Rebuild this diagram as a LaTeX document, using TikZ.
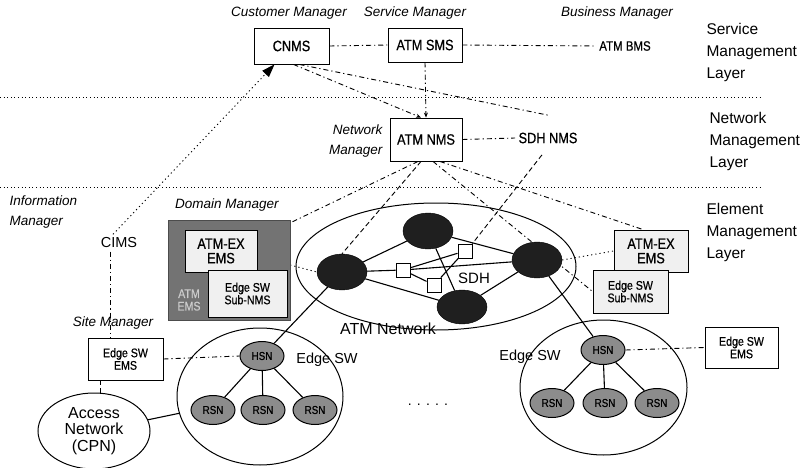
\documentclass[tikz,border=0pt]{standalone}
\usepackage{fontspec}
\setmainfont{Liberation Sans}
\newfontfamily\cond[FakeStretch=0.85,FakeBold=0.6]{Liberation Sans}
\usetikzlibrary{arrows.meta,shapes.geometric,backgrounds}
\begin{document}
\begin{tikzpicture}[x=1pt,y=-1pt,
  box/.style={draw,line width=0.9pt,fill=white,inner sep=0pt,align=center},
  bigtxt/.style={font=\cond\fontsize{15}{15}\selectfont},
  smtxt/.style={font=\cond\fontsize{12.5}{12.5}\selectfont},
  mgr/.style={font=\itshape\fontsize{13.5}{20}\selectfont},
  layer/.style={font=\fontsize{15.5}{22}\selectfont,align=left,anchor=west},
  dd/.style={line width=0.9pt,dash pattern=on 5pt off 3pt on 1.2pt off 3pt},
  dt/.style={line width=0.9pt,dash pattern=on 1.2pt off 3pt},
  ds/.style={line width=0.9pt,dash pattern=on 5pt off 3pt},
  sep/.style={line width=0.8pt,dash pattern=on 1pt off 2.6pt},
  sol/.style={line width=1.1pt},
  blk/.style={ellipse,draw,fill=black!88,minimum width=50,minimum height=36,inner sep=0pt},
  gnode/.style={ellipse,draw,line width=1pt,fill=black!45,minimum width=44,minimum height=29,inner sep=0pt,font=\cond\fontsize{11.5}{11.5}\selectfont},
  sqr/.style={draw,fill=white,line width=0.9pt,minimum size=14,inner sep=0pt},
  ring/.style={ellipse,draw,line width=1pt,inner sep=0pt},
  sarr/.style={-{Stealth[length=5pt,width=4pt]}}
]
\useasboundingbox (0,0) rectangle (800,468);

% layer separators
\coordinate (s1a) at (0,97); \coordinate (s1b) at (763,97);
\coordinate (s2a) at (0,187); \coordinate (s2b) at (763,187);
\draw[sep] (s1a) -- (s1b);
\draw[sep] (s2a) -- (s2b);

% layer labels
\node[layer] (L1) at (703,52) {Service\\Management\\Layer};
\node[layer] (L2) at (706,141) {Network\\Management\\Layer};
\node[layer] (L3) at (703,232) {Element\\Management\\Layer};

% manager labels
\node[mgr] (m1) at (289,13) {Customer Manager};
\node[mgr] (m2) at (415,13) {Service Manager};
\node[mgr] (m3) at (617,13) {Business Manager};
\node[mgr,align=right,anchor=east] (m4) at (386,141) {Network\\Manager};
\node[mgr,align=left,anchor=west] (m5) at (6,212) {Information\\Manager};
\node[mgr] (m6) at (227,205) {Domain Manager};
\node[mgr] (m7) at (113,323) {Site Manager};

% top boxes
\node[box,bigtxt,minimum width=75,minimum height=36] (cnms) at (291.5,46) {CNMS};
\node[box,bigtxt,minimum width=74,minimum height=34] (sms) at (425,45) {ATM SMS};
\node[font=\cond\fontsize{13.5}{13.5}\selectfont] (bms) at (625,46) {ATM BMS};
\node[box,bigtxt,minimum width=72,minimum height=43] (nms) at (426,139.5) {ATM NMS};
\node[bigtxt] (sdhnms) at (548,138) {SDH NMS};
\node[font=\fontsize{14.5}{14.5}\selectfont] (cims) at (119,243) {CIMS};

% domain manager
\node[draw=black!70,fill=black!55,minimum width=122,minimum height=100,inner sep=0pt] (dm) at (229,270) {};
\node[smtxt,text=black!20,align=center] (atmems) at (189,300) {ATM\\EMS};
\node[box,fill=black!6,font=\cond\fontsize{15}{14.5}\selectfont,minimum width=72,minimum height=42] (emsL) at (221,251) {ATM-EX\\EMS};
\node[box,fill=black!6,smtxt,minimum width=79,minimum height=47] (subL) at (247.5,293.5) {Edge SW\\Sub-NMS};

% right element managers
\node[box,fill=black!6,font=\cond\fontsize{15}{14.5}\selectfont,minimum width=74,minimum height=42] (emsR) at (651,251) {ATM-EX\\EMS};
\node[box,fill=black!6,smtxt,minimum width=75,minimum height=43] (subR) at (630.5,291.5) {Edge SW\\Sub-NMS};

% edge SW EMS boxes
\node[box,smtxt,minimum width=75,minimum height=42] (siteL) at (125.5,359) {Edge SW\\EMS};
\node[box,smtxt,minimum width=73,minimum height=41] (emsER) at (741.5,347.5) {Edge SW\\EMS};

% ATM network
\node[ring,minimum width=280,minimum height=127] (atmnet) at (436,266.5) {};
\node[font=\fontsize{16}{16}\selectfont] (atmlbl) at (388,329) {ATM Network};
\node[blk] (nT) at (428,231) {};
\node[blk] (nL) at (342,272) {};
\node[blk] (nR) at (537,260) {};
\node[blk,minimum height=34] (nB) at (462,307) {};
\node[sqr] (q1) at (403,270) {};
\node[sqr] (q2) at (465,251) {};
\node[sqr] (q3) at (434,285) {};
\node[font=\fontsize{15}{15}\selectfont] (sdh) at (474,278) {SDH};

% edge switches
\node[ring,minimum width=166,minimum height=137] (edgeL) at (260,396.5) {};
\node[ring,minimum width=167,minimum height=135] (edgeR) at (603.5,387.5) {};
\node[gnode] (hL) at (262,356) {HSN};
\node[gnode] (rL1) at (213,410) {RSN};
\node[gnode] (rL2) at (263,410) {RSN};
\node[gnode] (rL3) at (315,410) {RSN};
\node[gnode] (hR) at (603,350) {HSN};
\node[gnode] (rR1) at (552,403) {RSN};
\node[gnode] (rR2) at (605,403) {RSN};
\node[gnode] (rR3) at (657,403) {RSN};
\node[font=\fontsize{14.5}{14.5}\selectfont] (eswL) at (327,360) {Edge SW};
\node[font=\fontsize{14.5}{14.5}\selectfont] (eswR) at (530,357) {Edge SW};
\node[font=\fontsize{14}{14}\selectfont] (dots) at (428,405) {. . . . .};

% access network
\node[ring,fill=white,minimum width=112,minimum height=76,align=center,font=\fontsize{16}{16.5}\selectfont] (acc) at (94,431) {Access\\Network\\(CPN)};

\begin{pgfonlayer}{background}
% solid links
\draw[sol] (nL) -- (nT);
\draw[sol] (nL) -- (q1);
\draw[sol] (q1) -- (q2);
\draw[sol] (q1) -- (nR);
\draw[sol] (q1) -- (q3);
\draw[sol] (q3) -- (q2);
\draw[sol] (nT) -- (nR);
\draw[sol] (nT) -- (nB);
\draw[sol] (nL) -- (nB);
\draw[sol] (nB) -- (nR);
\draw[sol] (nL) -- (hL);
\draw[sol] (nR) -- (hR);
\draw[sol] (hL) -- (rL1);
\draw[sol] (hL) -- (rL2);
\draw[sol] (hL) -- (rL3);
\draw[sol] (hR) -- (rR1);
\draw[sol] (hR) -- (rR2);
\draw[sol] (hR) -- (rR3);
\draw[sol] (acc) -- (edgeL);

% management links
\draw[dd] (cnms.east) -- (sms.west);
\draw[dd] (sms.east) -- (bms.west);
\draw[dd,sarr] (sms.south) -- (nms.north);
\draw[dd,sarr] ([xshift=2pt]cnms.south) -- ([xshift=-5pt]nms.north);
\draw[dd] ([xshift=8pt]cnms.south) -- ([yshift=14pt]sdhnms.north);
\draw[dd] (nms.east) -- (sdhnms.west);
\draw[dt,-{Triangle[length=13pt,width=9pt]}] ([xshift=-6pt]cims.north) -- ([xshift=-17pt]cnms.south);
\draw[dd] ([xshift=-9pt]cims.south) -- ([xshift=-15.5pt]siteL.north);
\draw[ds] ([xshift=-25.5pt]siteL.south) -- ([xshift=6pt]acc.north);
\draw[dd] (siteL.east) -- (hL.west);
\draw[dd] (hR.east) -- (emsER.west);
\draw[dd] ([xshift=-8pt]nms.south) -- ([xshift=-2pt,yshift=-4pt]dm.north east);
\draw[ds] ([xshift=-5pt]nms.south) -- (nL.north);
\draw[dd] ([xshift=7pt]nms.south) -- (subR.west);
\draw[dd] ([xshift=14pt]nms.south) -- ([xshift=-8pt]emsR.north);
\draw[ds] ([xshift=-6pt,yshift=-8pt]sdhnms.south) -- (q2.north east);
\draw[dt] (nR.east) -- (emsR.west);
\draw[dt] ([yshift=5pt]dm.east) -- (nL.west);
\end{pgfonlayer}
\end{tikzpicture}
\end{document}
